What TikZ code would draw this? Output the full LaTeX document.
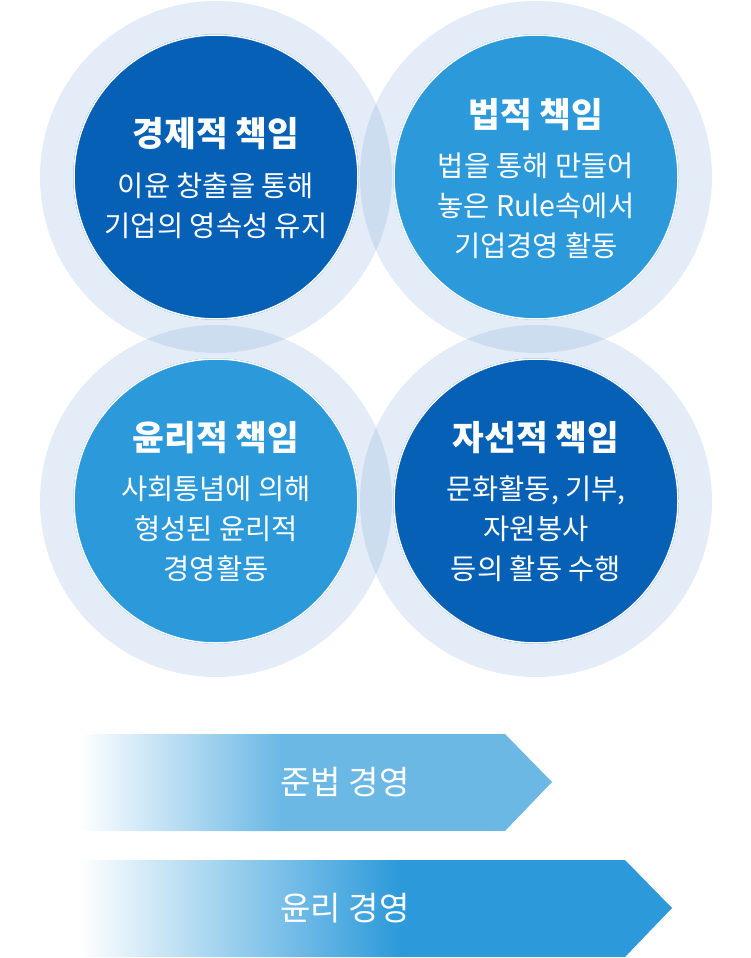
\documentclass[tikz,border=0pt]{standalone}
\usepackage{fontspec}
\newfontfamily\kr{Noto Sans CJK KR}
\definecolor{darkblue}{HTML}{0560B6}
\definecolor{lightblue}{HTML}{2C9ADA}
\definecolor{haloblue}{HTML}{1E6BBF}
\definecolor{paleblue}{HTML}{6CB8E5}
\begin{document}
\begin{tikzpicture}[x=1pt, y=-1pt,
    halo/.style={fill=haloblue, fill opacity=0.12},
    core/.style={draw=white, line width=1.5pt},
    title/.style={text=white, font=\kr\bfseries\fontsize{34.5}{40}\selectfont},
    body/.style={text=white, align=center, font=\kr\fontsize{28.5}{40}\selectfont},
    banner/.style={text=white, font=\kr\fontsize{33}{40}\selectfont}]
  \useasboundingbox (0,0) rectangle (750,958);

  % Halo rings
  \foreach \cx/\cy in {216/177, 536/177, 216/501, 536/501}
    \fill[halo] (\cx,\cy) circle[radius=176pt];

  % Responsibility circles
  \fill[core, darkblue] (216,177) circle[radius=142pt];
  \fill[core, lightblue] (536,177) circle[radius=142pt];
  \fill[core, lightblue] (216,501) circle[radius=142pt];
  \fill[core, darkblue] (536,501) circle[radius=142pt];
  \draw[core] (216,177) circle[radius=142pt] (536,177) circle[radius=142pt]
    (216,501) circle[radius=142pt] (536,501) circle[radius=142pt];

  \node[title] (econ) at (216,134) {경제적 책임};
  \node[body] (econ text) at (216,206) {이윤 창출을 통해\\기업의 영속성 유지};
  \node[title] (legal) at (536,115) {법적 책임};
  \node[body] (legal text) at (536,206) {법을 통해 만들어\\놓은 Rule속에서\\기업경영 활동};
  \node[title] (ethic) at (216,438) {윤리적 책임};
  \node[body] (ethic text) at (216,529) {사회통념에 의해\\형성된 윤리적\\경영활동};
  \node[title] (charity) at (536,438) {자선적 책임};
  \node[body] (charity text) at (536,529) {문화활동, 기부,\\자원봉사\\등의 활동 수행};

  % Compliance banner
  \begin{scope}
    \clip (79,734) -- (505,734) -- (552,782) -- (505,831) -- (79,831) -- cycle;
    \fill[paleblue] (79,734) rectangle (552,831);
    \shade[left color=white, right color=paleblue] (79,734) rectangle (280,831);
  \end{scope}
  \node[banner] (compliance) at (345,782) {준법 경영};

  % Ethics banner
  \begin{scope}
    \clip (79,860) -- (625,860) -- (672,908) -- (625,957) -- (79,957) -- cycle;
    \fill[lightblue] (79,860) rectangle (672,957);
    \shade[left color=white, right color=lightblue] (79,860) rectangle (400,957);
  \end{scope}
  \node[banner] (ethics) at (345,908) {윤리 경영};
\end{tikzpicture}
\end{document}
